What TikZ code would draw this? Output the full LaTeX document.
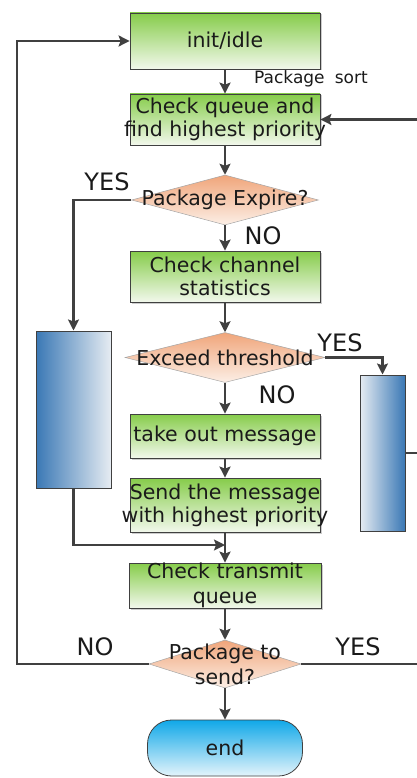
\documentclass[tikz,border=0pt]{standalone}
\usepackage{fontspec}
\setmainfont{DejaVu Sans}
\usetikzlibrary{shapes.geometric,arrows.meta,shadows}
\definecolor{lc}{HTML}{404040}
\definecolor{gtop}{HTML}{86CC4A}
\definecolor{gbot}{HTML}{F2F8EC}
\definecolor{otop}{HTML}{F0A57A}
\definecolor{obot}{HTML}{FCEFE6}
\definecolor{bdark}{HTML}{3A78B5}
\definecolor{blight}{HTML}{E6ECF2}
\definecolor{etop}{HTML}{10A8E8}
\definecolor{ebot}{HTML}{E4F4FB}
\definecolor{txt}{HTML}{1A1A1A}
\begin{document}
\begin{tikzpicture}[x=1pt,y=-1pt,
 box/.style={draw=lc, line width=0.8pt, top color=gtop, bottom color=gbot, minimum width=190pt, inner sep=0pt,
   drop shadow={shadow xshift=1.5pt,shadow yshift=-1.5pt,opacity=0.4,fill=gray}},
 dia/.style={diamond, draw=gray!70, line width=0.5pt, top color=otop, bottom color=obot, inner sep=0pt},
 bbox/.style={draw=lc, line width=1pt, inner sep=0pt, minimum width=75pt, minimum height=157pt},
 lbl/.style={text=txt, font=\fontsize{20.5}{23}\selectfont, align=center, inner sep=0pt},
 yn/.style={text=txt, font=\fontsize{24}{26}\selectfont, inner sep=0pt},
 conn/.style={draw=lc, line width=2.1pt, -{Stealth[length=11pt,width=11pt,inset=2pt]}},
 wire/.style={draw=lc, line width=2.1pt},
]
\useasboundingbox (0,0) rectangle (417,778);

% boxes
\node[box, minimum height=56pt] (b1) at (225,41) {};
\node[lbl] (t1) at (b1) {init/idle};
\node[box, minimum height=51pt] (b2) at (225,119.5) {};
\node[lbl] (t2) at (b2) {Check queue and\\find highest priority};
\node[dia, minimum width=187pt, minimum height=50pt] (d1) at (225,200) {};
\node[lbl] (t3) at (d1) {Package Expire?};
\node[box, minimum height=51pt] (b3) at (225,276.5) {};
\node[lbl] (t4) at (b3) {Check channel\\statistics};
\node[dia, minimum width=200pt, minimum height=50pt] (d2) at (225,357.5) {};
\node[lbl] (t5) at (d2) {Exceed threshold};
\node[box, minimum height=44pt] (b4) at (225,436) {};
\node[lbl] (t6) at (b4) {take out message};
\node[box, minimum height=54pt] (b5) at (225,505) {};
\node[lbl] (t7) at (b5) {Send the message\\with highest priority};
\node[box, minimum height=45pt, minimum width=192pt] (b6) at (225,585.5) {};
\node[lbl, font=\fontsize{20.5}{25}\selectfont] (t8) at (b6) {Check transmit\\queue};
\node[dia, minimum width=152pt, minimum height=48pt] (d3) at (225,664) {};
\node[lbl, font=\fontsize{20.5}{25}\selectfont] (t9) at (d3) {Package to\\send?};
\node[draw=lc, line width=0.8pt, rounded corners=24pt, top color=etop, bottom color=ebot,
      minimum width=155pt, minimum height=56pt, inner sep=0pt] (e) at (225,748) {};
\node[lbl] (t10) at (e) {end};

% blue side boxes
\node[bbox, left color=bdark, right color=blight] (lb) at (73.5,409.5) {};
\node[bbox, left color=blight, right color=bdark, minimum width=45pt, minimum height=156pt] (rb) at (382.5,453) {};

% labels
\node[text=txt, font=\fontsize{17}{19}\selectfont, inner sep=0pt] (ps) at (311,79) {Package\hspace{0.6em}sort};
\node[yn] (y1) at (107,182) {YES};
\node[yn] (n1) at (263,236) {NO};
\node[yn] (y2) at (340,343) {YES};
\node[yn] (n2) at (277,395) {NO};
\node[yn] (n3) at (95,647) {NO};
\node[yn] (y3) at (358,647) {YES};

% coordinates
\coordinate (tr) at (417,119.5);
\coordinate (j) at (225,545);
\coordinate (rr) at (417,453);
\coordinate (cl) at (17,0);
\coordinate (cr) at (417,664);

% connectors
\draw[conn] (b1) -- (b2);
\draw[conn] (b2) -- (d1);
\draw[conn] (d1) -- (b3);
\draw[conn] (b3) -- (d2);
\draw[conn] (d2) -- (b4);
\draw[conn] (b4) -- (b5);
\draw[conn] (b5) -- (b6);
\draw[conn] (b6) -- (d3);
\draw[conn] (d3) -- (e);
\draw[conn] (tr) -- (b2.east);
\draw[conn] (d1.west) -| (lb.north);
\draw[conn] (lb.south) |- (j);
\draw[conn] (d2.east) -| (rb.north);
\draw[wire] (rb.east) -- (rr);
\draw[conn] (d3.west) -- (d3.west -| cl) -- (b1.west -| cl) -- (b1.west);
\draw[wire] (d3.east) -- (cr);
\end{tikzpicture}
\end{document}
